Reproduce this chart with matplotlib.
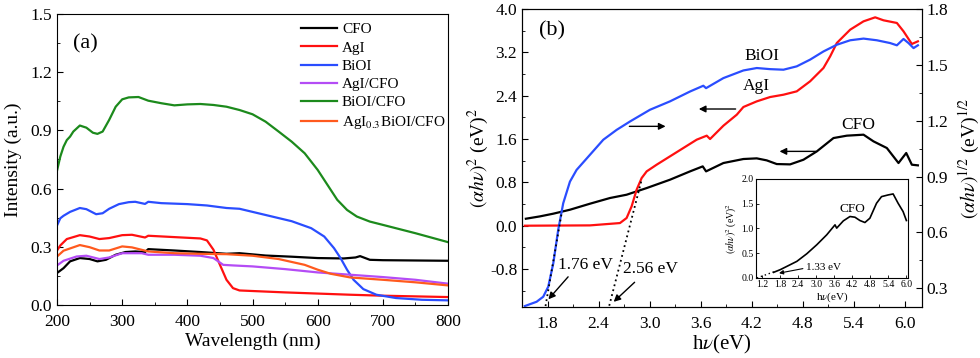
import numpy as np
import matplotlib
matplotlib.use("Agg")
import matplotlib.pyplot as plt
from matplotlib.ticker import MultipleLocator

plt.rcParams['font.family'] = ['Liberation Serif', 'DejaVu Serif']
plt.rcParams['mathtext.fontset'] = 'stix'
plt.rcParams['xtick.direction'] = 'in'
plt.rcParams['ytick.direction'] = 'in'

# ---- panel (a): UV-vis absorbance ----
cfo_x = [200, 210, 220, 235, 250, 262, 275, 290, 305, 320, 335, 340, 380, 420, 460, 480,
         520, 560, 600, 640, 658, 665, 680, 700, 800]
cfo_y = [0.165, 0.19, 0.225, 0.242, 0.237, 0.225, 0.233, 0.259, 0.273, 0.276, 0.273, 0.288,
         0.281, 0.273, 0.264, 0.267, 0.255, 0.249, 0.242, 0.24, 0.245, 0.252, 0.233, 0.231, 0.228]

agi_x = [200, 205, 215, 235, 250, 265, 280, 300, 315, 335, 340, 380, 420, 430, 440, 450,
         460, 470, 480, 550, 650, 700, 800]
agi_y = [0.281, 0.307, 0.34, 0.36, 0.353, 0.34, 0.345, 0.36, 0.362, 0.348, 0.357, 0.35,
         0.343, 0.333, 0.285, 0.207, 0.13, 0.087, 0.075, 0.065, 0.053, 0.048, 0.041]

bioi_x = [200, 205, 210, 220, 235, 245, 260, 270, 280, 295, 310, 320, 335, 340, 360, 400,
          430, 460, 480, 500, 530, 560, 590, 610, 625, 635, 645, 655, 670, 690, 720, 760, 800]
bioi_y = [0.41, 0.447, 0.46, 0.48, 0.5, 0.494, 0.468, 0.473, 0.496, 0.52, 0.53, 0.532,
          0.521, 0.532, 0.525, 0.52, 0.513, 0.5, 0.496, 0.48, 0.456, 0.432, 0.396, 0.353,
          0.293, 0.242, 0.182, 0.13, 0.082, 0.053, 0.036, 0.027, 0.024]

agicfo_x = [200, 210, 230, 245, 265, 280, 300, 330, 340, 380, 420, 440, 455, 470, 500,
            550, 600, 650, 700, 750, 800]
agicfo_y = [0.204, 0.228, 0.25, 0.254, 0.237, 0.245, 0.267, 0.267, 0.259, 0.259, 0.254,
            0.242, 0.207, 0.204, 0.199, 0.185, 0.168, 0.156, 0.144, 0.13, 0.11]

bioicfo_x = [200, 205, 210, 215, 220, 225, 235, 245, 255, 262, 270, 280, 290, 300, 310, 325,
             340, 360, 380, 400, 420, 440, 460, 480, 500, 520, 540, 560, 580, 600, 615, 630,
             645, 660, 680, 700, 750, 800]
bioicfo_y = [0.693, 0.765, 0.816, 0.85, 0.868, 0.894, 0.925, 0.914, 0.888, 0.882, 0.894,
             0.954, 1.022, 1.06, 1.07, 1.072, 1.053, 1.04, 1.029, 1.034, 1.036, 1.031, 1.022,
             1.005, 0.983, 0.945, 0.894, 0.842, 0.782, 0.696, 0.619, 0.542, 0.49, 0.456,
             0.43, 0.413, 0.37, 0.324]

tern_x = [200, 210, 235, 250, 265, 280, 300, 315, 340, 380, 420, 460, 500, 540, 580, 600,
          620, 650, 700, 750, 800]
tern_y = [0.25, 0.28, 0.309, 0.298, 0.281, 0.281, 0.302, 0.297, 0.276, 0.267, 0.264, 0.262,
          0.254, 0.237, 0.207, 0.182, 0.161, 0.142, 0.13, 0.117, 0.101]

# ---- panel (b): Tauc plots ----
agi_e = [1.533, 2.298, 2.651, 2.729, 2.788, 2.847, 2.906, 2.965, 3.082, 3.239, 3.396, 3.553,
         3.671, 3.71, 3.867, 4.024, 4.102, 4.259, 4.416, 4.573, 4.729, 4.886, 5.043, 5.122,
         5.2, 5.357, 5.514, 5.651, 5.749, 5.906, 5.984, 6.082, 6.153]
agi_t = [0.0, 0.006, 0.049, 0.142, 0.357, 0.665, 0.88, 1.003, 1.126, 1.28, 1.434, 1.588,
         1.662, 1.6, 1.846, 2.049, 2.191, 2.295, 2.375, 2.418, 2.48, 2.665, 2.911, 3.126,
         3.372, 3.618, 3.772, 3.846, 3.791, 3.742, 3.588, 3.354, 3.403]

cfo_e = [1.545, 1.71, 1.867, 2.063, 2.298, 2.533, 2.729, 2.965, 3.239, 3.475, 3.624, 3.663,
         3.867, 4.102, 4.259, 4.376, 4.494, 4.651, 4.808, 4.965, 5.161, 5.318, 5.514, 5.631,
         5.788, 5.925, 6.016, 6.082, 6.153]
cfo_t = [0.129, 0.172, 0.222, 0.295, 0.406, 0.511, 0.572, 0.695, 0.849, 1.003, 1.095, 1.003,
         1.157, 1.231, 1.243, 1.206, 1.138, 1.132, 1.218, 1.372, 1.618, 1.662, 1.68, 1.557,
         1.434, 1.157, 1.342, 1.126, 1.114]

bioi_e = [1.533, 1.671, 1.749, 1.808, 1.867, 1.925, 1.984, 2.063, 2.141, 2.298, 2.455, 2.612,
          2.769, 3.004, 3.239, 3.475, 3.631, 3.663, 3.867, 4.102, 4.259, 4.416, 4.573, 4.729,
          4.886, 5.043, 5.2, 5.357, 5.514, 5.671, 5.827, 5.906, 5.984, 6.043, 6.102, 6.153]
bioi_t = [0.205, 0.228, 0.255, 0.309, 0.434, 0.614, 0.757, 0.873, 0.936, 1.017, 1.098, 1.151,
          1.196, 1.259, 1.304, 1.357, 1.388, 1.375, 1.429, 1.47, 1.483, 1.477, 1.474, 1.492,
          1.528, 1.572, 1.608, 1.632, 1.641, 1.632, 1.617, 1.605, 1.639, 1.617, 1.59, 1.605]

# tangent (extrapolation) lines
bioi_tan_e = [1.776, 1.965]
bioi_tan_t = [0.205, 0.703]
agi_tan_e = [2.525, 2.906]
agi_tan_t = [-1.477, 0.849]

# inset: CFO
ins_e = [1.586, 1.807, 2.028, 2.359, 2.69, 3.021, 3.352, 3.628, 3.683, 3.904, 4.125, 4.29,
         4.456, 4.622, 4.787, 5.008, 5.174, 5.394, 5.56, 5.725, 5.891, 6.001]
ins_t = [0.114, 0.168, 0.235, 0.336, 0.49, 0.671, 0.872, 1.074, 1.007, 1.154, 1.242, 1.228,
         1.161, 1.121, 1.208, 1.51, 1.644, 1.678, 1.698, 1.51, 1.342, 1.161]
ins_tan_e = [1.03, 1.6]
ins_tan_t = [0.0, 0.125]

fig = plt.figure(figsize=(9.8, 3.58), dpi=100)

# ---------------- (a) ----------------
ax = fig.add_axes([0.0582, 0.148, 0.399, 0.813])
lw = 1.6
ax.plot(cfo_x, cfo_y, color='black', lw=lw, label='CFO')
ax.plot(agi_x, agi_y, color='#ff1010', lw=lw, label='AgI')
ax.plot(bioi_x, bioi_y, color='#2a4dff', lw=lw, label='BiOI')
ax.plot(agicfo_x, agicfo_y, color='#b44cf5', lw=lw, label='AgI/CFO')
ax.plot(bioicfo_x, bioicfo_y, color='#1c8a1c', lw=lw, label='BiOI/CFO')
ax.plot(tern_x, tern_y, color='#ff5a1e', lw=lw, label=r'AgI$_{0.3}$BiOI/CFO')
ax.set_xlim(200, 800)
ax.set_ylim(0, 1.5)
ax.xaxis.set_major_locator(MultipleLocator(100))
ax.xaxis.set_minor_locator(MultipleLocator(50))
ax.yaxis.set_major_locator(MultipleLocator(0.3))
ax.yaxis.set_minor_locator(MultipleLocator(0.15))
ax.yaxis.set_major_formatter(plt.FormatStrFormatter('%.1f'))
ax.tick_params(labelsize=12.5, length=4, width=0.8)
ax.tick_params(axis='x', pad=6.5)
ax.tick_params(which='minor', length=2.5)
ax.set_xlabel('Wavelength (nm)', fontsize=14, labelpad=2)
ax.set_ylabel('Intensity (a.u.)', fontsize=14, labelpad=6)
ax.text(0.04, 0.93, '(a)', transform=ax.transAxes, fontsize=16, va='top')
ax.legend(loc='upper left', bbox_to_anchor=(0.625, 0.97), frameon=False, fontsize=11,
          handlelength=2.3, handletextpad=0.35, labelspacing=0.3, borderpad=0, borderaxespad=0)

# ---------------- (b) ----------------
bx = fig.add_axes([0.5327, 0.1425, 0.408, 0.8324])
bx.plot(cfo_e, cfo_t, color='black', lw=lw)
bx.plot(agi_e, agi_t, color='#ff1010', lw=lw)
bx.plot(agi_tan_e, agi_tan_t, color='black', lw=1.3, ls=(0, (1, 1.8)))
bx.set_xlim(1.5, 6.2)
bx.set_ylim(-1.5, 4.0)
bx.xaxis.set_major_locator(MultipleLocator(0.6))
bx.xaxis.set_minor_locator(MultipleLocator(0.3))
bx.yaxis.set_major_locator(MultipleLocator(0.8))
bx.yaxis.set_minor_locator(MultipleLocator(0.4))
bx.yaxis.set_major_formatter(plt.FormatStrFormatter('%.1f'))
bx.tick_params(labelsize=12.5, length=4, width=0.8)
bx.tick_params(axis='x', pad=6.5)
bx.tick_params(which='minor', length=2.5)
bx.set_xlabel(r'h$\nu$(eV)', fontsize=15, labelpad=1)
bx.set_ylabel(r'$(\alpha h\nu)^{2}$ (eV)$^{2}$', fontsize=14, labelpad=-1)

tx = bx.twinx()
tx.plot(bioi_e, bioi_t, color='#2a4dff', lw=lw)
tx.plot(bioi_tan_e, bioi_tan_t, color='black', lw=1.3, ls=(0, (1, 1.8)))
tx.set_ylim(0.2, 1.8)
tx.yaxis.set_major_locator(MultipleLocator(0.3))
tx.yaxis.set_minor_locator(MultipleLocator(0.15))
tx.yaxis.set_major_formatter(plt.FormatStrFormatter('%.1f'))
tx.tick_params(labelsize=12.5, length=4, width=0.8)
tx.tick_params(which='minor', length=2.5)
tx.set_ylabel(r'$(\alpha h\nu)^{1/2}$ (eV)$^{1/2}$', fontsize=14, labelpad=6)

bx.text(1.85, 3.59, '(b)', fontsize=16, ha='center', va='center')
bx.text(4.32, 3.13, 'BiOI', fontsize=12.5, ha='center', va='center')
bx.text(4.26, 2.57, 'AgI', fontsize=12.5, ha='center', va='center')
bx.text(5.455, 1.85, 'CFO', fontsize=12.5, ha='center', va='center')
arr = dict(arrowstyle='-|>', color='black', lw=1.0, mutation_scale=10)
bx.annotate('', xy=(3.22, 1.834), xytext=(2.729, 1.834), arrowprops=arr)
bx.annotate('', xy=(3.545, 2.154), xytext=(4.043, 2.154), arrowprops=arr)
bx.annotate('', xy=(4.494, 1.372), xytext=(4.984, 1.372), arrowprops=arr)
bx.annotate('', xy=(1.788, -1.397), xytext=(2.063, -0.905), arrowprops=arr)
bx.annotate('', xy=(2.553, -1.44), xytext=(2.847, -1.009), arrowprops=arr)
bx.text(1.92, -0.72, '1.76 eV', fontsize=12.5, ha='left', va='center')
bx.text(2.69, -0.79, '2.56 eV', fontsize=12.5, ha='left', va='center')

# inset
ix = fig.add_axes([0.7714, 0.2235, 0.155, 0.2765])
ix.plot(ins_e, ins_t, color='black', lw=1.2)
ix.plot(ins_tan_e, ins_tan_t, color='black', lw=1.0, ls=(0, (1, 2)))
ix.set_xlim(1.0, 6.05)
ix.set_ylim(0, 2.0)
ix.xaxis.set_major_locator(MultipleLocator(0.6))
ix.yaxis.set_major_locator(MultipleLocator(0.5))
ix.xaxis.set_major_formatter(plt.FormatStrFormatter('%.1f'))
ix.yaxis.set_major_formatter(plt.FormatStrFormatter('%.1f'))
ix.tick_params(labelsize=7, length=2.5, width=0.6, pad=1.5)
ix.set_xlabel(r'h$\nu$(eV)', fontsize=8, labelpad=1)
ix.set_ylabel(r'$(\alpha h\nu)^{2}$ (eV)$^{2}$', fontsize=7, labelpad=2)
ix.text(4.21, 1.39, 'CFO', fontsize=9.5, ha='center', va='center')
ix.annotate('', xy=(1.675, 0.087), xytext=(2.65, 0.2),
            arrowprops=dict(arrowstyle='-|>', color='black', lw=0.8, mutation_scale=6))
ix.text(2.65, 0.21, '1.33 eV', fontsize=8, ha='left', va='center')
for s in ix.spines.values():
    s.set_linewidth(0.8)

fig.savefig('out.png', dpi=100)
